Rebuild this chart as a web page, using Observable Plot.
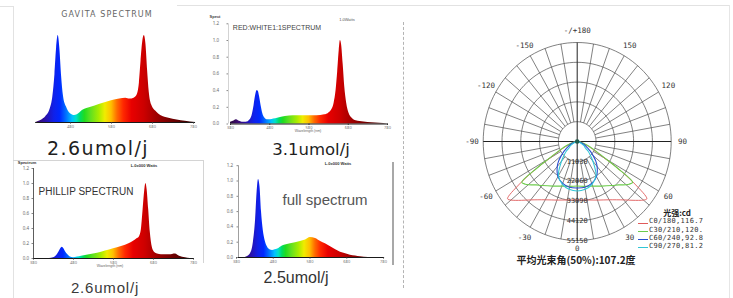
<!DOCTYPE html>
<html><head><meta charset="utf-8">
<script src="https://cdn.jsdelivr.net/npm/d3@7"></script>
<script src="https://cdn.jsdelivr.net/npm/@observablehq/plot@0.6"></script>
<style>
html,body{margin:0;padding:0;background:#fff;}
#root{position:relative;width:733px;height:298px;overflow:hidden;background:#fff;font-family:"Liberation Sans",Arial,sans-serif;}
.box{position:absolute;}
.box svg{display:block;max-width:none!important;}
.lbl{position:absolute;white-space:nowrap;line-height:1;transform:translate(-50%,-50%);}
.ln{position:absolute;}
</style></head>
<body><div id="root"></div>
<script>
// ---------- DATA ----------
// Panel 1: Gavita spectrum (wavelength nm, relative power)
const gavitaNm  = [395,400,410,420,430,437,442,446,450,454,458,463,470,480,490,500,510,520,540,560,580,600,615,625,635,642,648,652,656,660,664,668,672,678,690,700,720,740,760,785];
const gavitaVal = [0,0.01,0.03,0.07,0.15,0.3,0.55,0.85,1.0,0.85,0.55,0.3,0.18,0.1,0.08,0.1,0.14,0.16,0.19,0.22,0.25,0.27,0.28,0.27,0.28,0.31,0.45,0.7,0.92,1.0,0.9,0.6,0.35,0.2,0.12,0.08,0.05,0.03,0.015,0];
const gavitaTicks = [480,580,680,780];
// Panel 2: Red:White 1:1
const rwNm  = [380,385,390,395,400,405,410,420,430,436,440,444,448,451,454,458,462,468,475,482,490,500,520,540,560,580,600,620,630,638,644,649,653,657,660,663,667,671,676,682,690,700,720,740,760,780];
const rwVal = [0.02,0.03,0.04,0.05,0.04,0.03,0.02,0.02,0.05,0.12,0.22,0.34,0.4,0.39,0.33,0.22,0.13,0.07,0.05,0.05,0.06,0.07,0.09,0.1,0.1,0.1,0.1,0.11,0.13,0.17,0.25,0.4,0.62,0.88,1.0,0.95,0.72,0.45,0.25,0.13,0.07,0.04,0.025,0.015,0.008,0];
// Panel 3: Philips
const phNm  = [380,420,430,438,444,448,452,456,460,466,472,480,490,500,520,540,560,580,600,620,630,638,645,650,654,658,661,664,668,672,677,683,690,700,720,735,745,760,772];
const phVal = [0,0,0.01,0.04,0.09,0.13,0.15,0.13,0.09,0.05,0.02,0.01,0.02,0.03,0.05,0.07,0.1,0.13,0.16,0.2,0.23,0.26,0.29,0.4,0.65,0.9,1.0,0.92,0.65,0.35,0.15,0.08,0.06,0.05,0.05,0.06,0.03,0.01,0];
// Panel 4: full spectrum
const fsNm  = [404,418,426,432,436,440,444,448,453,458,464,471,478,485,492,505,527,554,568,581,595,609,622,636,650,663,677,690,704,717,739];
const fsVal = [0,0.05,0.2,0.5,0.85,1.02,0.92,0.6,0.35,0.22,0.14,0.1,0.09,0.1,0.11,0.15,0.18,0.21,0.23,0.26,0.25,0.21,0.18,0.14,0.1,0.07,0.05,0.03,0.02,0.01,0];
const specTicks = [380,480,580,680,780];
const yTicks = [0,0.2,0.4,0.6,0.8,1.0,1.2];

// Polar candela diagram
const maxCd = 55150;
const ringCd = [11030,22060,33090,44120,55150];
const angleValues = [180,-150,150,-120,120,-90,90,-60,60,-30,30,0];
const angleLabels = ["-/+180","-150","150","-120","120","-90","90","-60","60","-30","30","0"];
const gamma = [0,10,20,30,40,45,50,52,55,58,60,65,70,80,90];
const cdC0   = [32540,33090,34740,37500,42470,46330,50740,51840,41360,27580,18200,9930,5520,2210,0];
const cdC30  = [24820,25370,26470,28680,31990,34190,37500,38610,39710,27580,19850,11030,6620,2210,0];
const cdC60  = [25920,25920,24820,22610,18200,15440,12130,11030,9380,7720,6620,4960,3310,1100,0];
const cdC90  = [27580,27020,25370,22060,14340,11030,8270,6620,5520,4960,4410,2760,1650,550,0];
const legendLabels = ["C0/180,116.7","C30/210,120.","C60/240,92.8","C90/270,81.2"];
const legendTitle = "光强:cd";
const beamCaption = "平均光束角(50%):107.2度";

// ---------- STYLE HELPERS ----------
const root = document.getElementById("root");
const spec = d3.scaleLinear()
  .domain([380,400,420,440,455,470,485,495,505,515,530,550,565,580,595,610,630,660,690,720,760,780])
  .range(["#2a0a3a","#3a0a70","#2a10a8","#1020e8","#0028ff","#0070ff","#00c0ff","#00e0c8","#00dc60","#20dc20","#60e020","#a8ec00","#f0ec00","#ffc000","#ff6800","#ff2800","#e80000","#cc0000","#a00000","#7a0000","#4a0000","#300000"])
  .clamp(true);

function place(el, left, top, w, h){
  const d = document.createElement("div");
  d.className = "box";
  d.style.left = left+"px"; d.style.top = top+"px";
  d.style.width = w+"px"; d.style.height = h+"px";
  d.appendChild(el); root.appendChild(d);
}
function label(text, cx, cy, css){
  const s = document.createElement("div");
  s.className = "lbl"; s.textContent = text;
  s.style.left = cx+"px"; s.style.top = cy+"px";
  Object.assign(s.style, css||{});
  root.appendChild(s);
}
function line(left, top, w, h, css){
  const s = document.createElement("div");
  s.className = "ln";
  s.style.left = left+"px"; s.style.top = top+"px"; s.style.width = w+"px"; s.style.height = h+"px";
  Object.assign(s.style, css);
  root.appendChild(s);
}

// ---------- FRAME ----------
line(0, 6, 13, 0, {borderTop:"1px solid #e2e2e2"});
line(177, 5, 552, 0, {borderTop:"1px solid #e2e2e2"});
line(13, 6, 0, 292, {borderLeft:"1px solid #e2e2e2"});
line(729, 5, 0, 293, {borderLeft:"1px solid #e6e6e6"});
line(403, 22, 0, 266, {borderLeft:"1px dashed #b4b4b4"});
line(13, 160, 190, 0, {borderTop:"1px solid #d4d4d4"});
line(203, 160, 0, 103, {borderLeft:"1px solid #d4d4d4"});
line(392, 162, 2, 103, {background:"#a8a8a8"});

// ---------- SPECTRUM PANELS ----------
function panel(o){
  const unit = o.yBase - o.yOne;
  const yTop = o.yBase - 1.2*unit;
  const data = o.nm.map((n,i)=>({nm:n, v:o.val[i]}));
  const marks = [
    Plot.areaY(data, {x:"nm", y:"v", fill:`url(#${o.id})`, curve:"monotone-x"}),
    Plot.ruleY([0], {x1:o.base[0], x2:o.base[1], stroke:"#1a1a1a", strokeWidth:1}),
    Plot.axisX({ticks:o.xTicks, tickSize:1.5, tickPadding:1, fontSize:4, stroke:"#333", fill:"#777", label:null})
  ];
  if (o.yAxis) {
    marks.push(Plot.ruleX([380], {y1:0, y2:1.2, stroke:o.yAxisColor||"#999", strokeWidth:0.8, dx:o.yAxisDx||0}));
    marks.push(Plot.axisY({ticks:yTicks, tickFormat:d=>d.toFixed(1), tickSize:1.5, tickPadding:o.yPad||8, fontSize:4.5, stroke:"#888", fill:"#666", label:null, dx:o.yAxisDx||0}));
  }
  const svg = Plot.plot({
    width:o.width, height:o.height,
    marginLeft:o.x0-o.left, marginRight:o.left+o.width-o.x1,
    marginTop:yTop-o.top, marginBottom:o.top+o.height-o.yBase,
    x:{domain:[380,780], axis:null}, y:{domain:[0,1.2], axis:null},
    style:{background:"transparent", overflow:"visible"},
    marks
  });
  const xs = svg.scale("x");
  const defs = d3.select(svg).insert("defs", ":first-child");
  const g = defs.append("linearGradient").attr("id", o.id)
    .attr("gradientUnits","userSpaceOnUse")
    .attr("x1", xs.apply(380)).attr("x2", xs.apply(780)).attr("y1",0).attr("y2",0);
  for (let n=380;n<=780;n+=5) g.append("stop").attr("offset",(n-380)/400).attr("stop-color",spec(n));
  place(svg, o.left, o.top, o.width, o.height);
}

panel({id:"gGav", nm:gavitaNm, val:gavitaVal, left:0, top:0, width:210, height:135,
  x0:29, x1:193, yBase:122, yOne:35, base:[395,785], xTicks:gavitaTicks, yAxis:false});
panel({id:"gRw", nm:rwNm, val:rwVal, left:200, top:8, width:200, height:128,
  x0:230, x1:387, yBase:123.5, yOne:40, base:[380,782], xTicks:specTicks, yAxis:true, yAxisDx:-2, yPad:8, yAxisColor:"#c8c8c8"});
panel({id:"gPh", nm:phNm, val:phVal, left:0, top:150, width:210, height:125,
  x0:33, x1:193, yBase:258, yOne:183, base:[380,782], xTicks:specTicks, yAxis:true, yAxisDx:0, yPad:3, yAxisColor:"#333"});
panel({id:"gFs", nm:fsNm, val:fsVal, left:200, top:150, width:200, height:125,
  x0:236, x1:383, yBase:257, yOne:180.5, base:[380,783], xTicks:specTicks, yAxis:true, yAxisDx:2, yPad:4, yAxisColor:"#888"});

// ---------- POLAR DIAGRAM ----------
const rad = d => d*Math.PI/180;
const toXY = (deg, r) => ({x: r*Math.sin(rad(deg)), y: -r*Math.cos(rad(deg))});
const ringPts = ringCd.flatMap(c => d3.range(0, 361, 3).map(a => ({ring:c, ...toXY(a, c/maxCd)})));
const spokes = d3.range(-170, 181, 10).filter(a => a % 90 !== 0).map(a => {
  const p1 = toXY(a, ringCd[0]/maxCd), p2 = toXY(a, 1);
  return {x1:p1.x, y1:p1.y, x2:p2.x, y2:p2.y};
});
const diam = [0, 90].map(a => { const p = toXY(a, 1); return {x1:p.x, y1:p.y, x2:-p.x, y2:-p.y}; });
function curvePts(cd){
  const pts = [];
  for (let i = gamma.length-1; i > 0; i--) pts.push(toXY(-gamma[i], cd[i]/maxCd));
  for (let i = 0; i < gamma.length; i++) pts.push(toXY(gamma[i], cd[i]/maxCd));
  return pts;
}
const angPts = angleValues.map((a,i) => ({label:angleLabels[i], ...toXY(a, a === 0 ? 1.08 : 1.12)}));
const ringLbl = ringCd.map(c => ({label:String(c), x:0, y:-c/maxCd}));

const polar = Plot.plot({
  width:293, height:260,
  marginLeft:42.7, marginRight:62.3, marginTop:22, marginBottom:40,
  x:{domain:[-1,1], axis:null}, y:{domain:[-1,1], axis:null},
  style:{background:"transparent", overflow:"visible"},
  marks:[
    Plot.line(ringPts, {x:"x", y:"y", z:"ring", stroke:"#4a4a4a", strokeWidth:0.7}),
    Plot.link(spokes, {x1:"x1", y1:"y1", x2:"x2", y2:"y2", stroke:"#4a4a4a", strokeWidth:0.7}),
    Plot.link(diam, {x1:"x1", y1:"y1", x2:"x2", y2:"y2", stroke:"#222", strokeWidth:1}),
    Plot.line(curvePts(cdC0),  {x:"x", y:"y", stroke:"#e05a5a", strokeWidth:0.9, curve:"catmull-rom"}),
    Plot.line(curvePts(cdC30), {x:"x", y:"y", stroke:"#6ccc4c", strokeWidth:1.1, curve:"catmull-rom"}),
    Plot.line(curvePts(cdC60), {x:"x", y:"y", stroke:"#2a4fd0", strokeWidth:1.1, curve:"catmull-rom"}),
    Plot.line(curvePts(cdC90), {x:"x", y:"y", stroke:"#30c6d6", strokeWidth:1.1, curve:"catmull-rom"}),
    Plot.dot([0], {x:0, y:0, r:2.3, fill:"#1f5a4a", stroke:"none"}),
    Plot.text(ringLbl, {x:"x", y:"y", text:"label", fontSize:7, fontFamily:"DejaVu Sans Mono", fill:"#333"}),
    Plot.text(angPts, {x:"x", y:"y", text:"label", fontSize:7.5, fontFamily:"DejaVu Sans Mono", fill:"#333"})
  ]
});
place(polar, 440, 20, 293, 260);

// ---------- TEXT ----------
label("GAVITA SPECTRUM", 107, 15, {fontFamily:"DejaVu Sans", fontSize:"8px", letterSpacing:"1.1px", color:"#666", background:"#fff", padding:"0 2px"});
label("2.6umol/j", 98, 148, {fontFamily:"DejaVu Sans", fontSize:"19px", letterSpacing:"1.4px", color:"#1e1e1e"});
label("RED:WHITE1:1SPECTRUM", 277, 27, {fontSize:"7px", color:"#444"});
label("Spect", 215, 17, {fontSize:"4px", color:"#444", fontWeight:"bold"});
label("1.0Watts", 347, 20, {fontSize:"4px", color:"#555"});
label("Wavelength (nm)", 308, 131.5, {fontSize:"3.5px", color:"#666"});
label("3.1umol/j", 311, 149.5, {fontFamily:"DejaVu Sans", fontSize:"16.5px", color:"#1e1e1e"});
label("Spectrum", 27, 163, {fontSize:"4px", color:"#333", fontWeight:"bold"});
label("L.0x000 Watts", 144, 166, {fontSize:"4px", color:"#333", fontWeight:"bold"});
label("PHILLIP SPECTRUN", 86, 192, {fontFamily:"'Liberation Sans Narrow','Liberation Sans',sans-serif", fontSize:"10px", color:"#333"});
label("Wavelength (nm)", 110, 267, {fontSize:"3.5px", color:"#666"});
label("2.6umol/j", 105, 287, {fontSize:"15px", letterSpacing:"0.8px", color:"#3a3a3a"});
label("L.0x000 Watts", 338, 163.5, {fontSize:"4px", color:"#333", fontWeight:"bold"});
label("full spectrum", 325, 199, {fontSize:"15px", color:"#555"});
label("2.5umol/j", 296, 278, {fontFamily:"'Liberation Sans Narrow','Liberation Sans',sans-serif", fontSize:"16px", color:"#333"});

// legend
label(legendTitle, 677, 213, {fontFamily:"'Noto Sans CJK SC',sans-serif", fontSize:"8px", fontWeight:"bold", color:"#222"});
const legendColors = ["#e05a5a","#6ccc4c","#2a4fd0","#30c6d6"];
const legendY = [222.7, 231, 239.3, 247];
legendLabels.forEach((t,i) => {
  line(638, legendY[i], 10, 0, {borderTop:`1px solid ${legendColors[i]}`});
  const s = document.createElement("div");
  s.className = "ln"; s.textContent = t;
  Object.assign(s.style, {left:"649px", top:(legendY[i]-4.5)+"px", fontFamily:"DejaVu Sans Mono", fontSize:"7px", lineHeight:"1", letterSpacing:"0.3px", color:"#333", whiteSpace:"nowrap"});
  root.appendChild(s);
});
label(beamCaption, 576, 260, {fontFamily:"'Noto Sans CJK SC',sans-serif", fontSize:"10px", fontWeight:"bold", color:"#222"});
</script>
</body></html>
